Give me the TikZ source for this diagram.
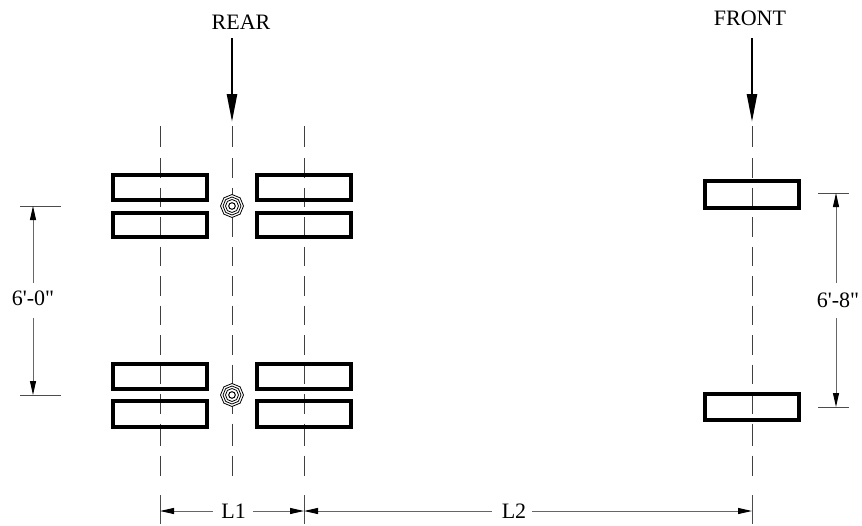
\documentclass[tikz,border=0pt]{standalone}
\usepackage{fontspec}
\newfontfamily\labelfont{Liberation Serif}
\usetikzlibrary{arrows.meta,calc}
\tikzset{
  x=1pt,y=-1pt,
  tyre/.style={draw=black,line width=4pt},
  center line/.style={draw=black!75,line width=0.9pt,dash pattern=on 21pt off 11pt on 19.5pt off 10pt on 19.5pt off 10pt on 19.5pt off 10pt on 19.5pt off 10pt on 19.5pt off 10pt on 19.5pt off 10pt on 19.5pt off 10pt on 19.5pt off 10pt on 19.5pt off 10pt on 22pt off 10pt},
  load arrow/.style={draw=black,line width=2.4pt,-{Triangle[length=28pt,width=10pt]}},
  dim line/.style={draw=black!60,line width=1pt},
  dim head/.style={-{Triangle[length=14pt,width=6pt,black]}},
  ext line/.style={draw=black!70,line width=0.9pt},
  label text/.style={font=\labelfont\fontsize{22}{24}\selectfont,inner sep=0pt,text=black},
  nut/.style={draw=black,line width=0.8pt,fill=white},
}
\newcommand{\hubmark}[2]{%
  \foreach \r in {11.5,9,6.5}{
    \draw[nut] ($(#1,#2)+(0:\r)$)
      \foreach \a in {45,90,...,315}{ -- ($(#1,#2)+(\a:\r)$) } -- cycle;
  }
  \draw[draw=black,line width=1pt,fill=white] (#1,#2) circle (3.3pt);
}
\begin{document}
\begin{tikzpicture}
\useasboundingbox (0,0) rectangle (862,525);
% centre lines
\coordinate (cA1) at (160,126); \coordinate (cA2) at (160,476);
\coordinate (cB1) at (232,126); \coordinate (cB2) at (232,476);
\coordinate (cC1) at (304,126); \coordinate (cC2) at (304,476);
\coordinate (cD1) at (752,126); \coordinate (cD2) at (752,476);
\draw[center line] (cA1) -- (cA2);
\draw[center line] (cB1) -- (cB2);
\draw[center line] (cC1) -- (cC2);
\draw[center line] (cD1) -- (cD2);
% tyres
\foreach \xa/\xb in {113.2/207.4,257.2/351.4}{
  \foreach \ya/\yb in {175/200,213/237.2,363.7/389,401.3/426.8}{
    \draw[tyre] (\xa,\ya) rectangle (\xb,\yb);
  }
}
\draw[tyre] (704.7,181.3) rectangle (798.7,207.5);
\draw[tyre] (704.7,394) rectangle (798.7,419.5);
% hubs
\hubmark{232}{206}
\hubmark{232}{395}
% load arrows
\node[label text] (rear) at (241,22) {REAR};
\node[label text] (front) at (750,18) {FRONT};
\coordinate (ra) at (232,38); \coordinate (rb) at (232,122);
\coordinate (fa) at (752,38); \coordinate (fb) at (752,122);
\draw[load arrow] (ra) -- (rb);
\draw[load arrow] (fa) -- (fb);
% left dimension
\coordinate (l1) at (20,206); \coordinate (l2) at (61,206);
\coordinate (l3) at (20,395); \coordinate (l4) at (61,395);
\draw[ext line] (l1) -- (l2);
\draw[ext line] (l3) -- (l4);
\node[label text] (d60) at (33,298) {6'-0"};
\coordinate (la) at (33,206); \coordinate (lb) at (33,395);
\coordinate (lc) at (33,283); \coordinate (ld) at (33,318);
\draw[dim line,dim head] (lc) -- (la);
\draw[dim line,dim head] (ld) -- (lb);
% right dimension
\coordinate (r1) at (818,193); \coordinate (r2) at (849,193);
\coordinate (r3) at (818,407); \coordinate (r4) at (849,407);
\draw[ext line] (r1) -- (r2);
\draw[ext line] (r3) -- (r4);
\node[label text] (d68) at (838,300) {6'-8"};
\coordinate (ra2) at (836,193); \coordinate (rb2) at (836,407);
\coordinate (rc) at (836,283); \coordinate (rd) at (836,318);
\draw[dim line,dim head] (rc) -- (ra2);
\draw[dim line,dim head] (rd) -- (rb2);
% bottom dimension
\coordinate (e1) at (160,495); \coordinate (e2) at (160,523.5);
\coordinate (e3) at (304,495); \coordinate (e4) at (304,523.5);
\coordinate (e5) at (752,495); \coordinate (e6) at (752,523.5);
\draw[ext line] (e1) -- (e2);
\draw[ext line] (e3) -- (e4);
\draw[ext line] (e5) -- (e6);
\node[label text] (L1) at (233.7,511) {L1};
\node[label text] (L2) at (514,511) {L2};
\coordinate (b1) at (160,511); \coordinate (b2) at (304,511); \coordinate (b3) at (752,511);
\coordinate (g1) at (213,511); \coordinate (g2) at (253,511);
\coordinate (g3) at (492,511); \coordinate (g4) at (532,511);
\draw[dim line,dim head] (g1) -- (b1);
\draw[dim line,dim head] (g2) -- (b2);
\draw[dim line,dim head] (g3) -- (b2);
\draw[dim line,dim head] (g4) -- (b3);
\end{tikzpicture}
\end{document}
